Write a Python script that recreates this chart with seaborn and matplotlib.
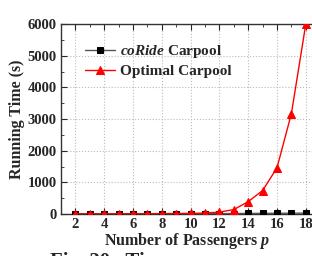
import matplotlib
matplotlib.use("Agg")
import matplotlib.pyplot as plt
import pandas as pd
import seaborn as sns
from matplotlib.ticker import MultipleLocator

passengers = [2, 3, 4, 5, 6, 7, 8, 9, 10, 11, 12, 13, 14, 15, 16, 17, 18]
coride_time = [5, 5, 5, 5, 6, 6, 7, 8, 9, 10, 12, 15, 18, 20, 22, 25, 28]
optimal_time = [3, 4, 5, 6, 8, 10, 12, 15, 20, 30, 60, 140, 390, 740, 1460, 3170, 6000]

df = pd.DataFrame({
    "p": passengers * 2,
    "time": coride_time + optimal_time,
    "method": ["coRide"] * len(passengers) + ["Optimal"] * len(passengers),
})

sns.set_style("ticks")
plt.rcParams["font.family"] = ["Liberation Serif", "DejaVu Serif"]
plt.rcParams["font.weight"] = "bold"
plt.rcParams["axes.labelweight"] = "bold"
plt.rcParams["mathtext.fontset"] = "custom"
plt.rcParams["mathtext.rm"] = "Liberation Serif:bold"
plt.rcParams["mathtext.it"] = "Liberation Serif:bold:italic"
plt.rcParams["mathtext.bf"] = "Liberation Serif:bold"

fig = plt.figure(figsize=(3.12, 2.56), dpi=100)
ax = fig.add_axes([61 / 312, 1 - 214 / 256, 252 / 312, 190 / 256])

c = df[df["method"] == "coRide"]
o = df[df["method"] == "Optimal"]
sns.lineplot(data=c, x="p", y="time", ax=ax, color="#555555", lw=1.0,
             marker="s", markersize=4, markerfacecolor="black", markeredgecolor="black",
             label="$\\it{coRide}$ Carpool", zorder=3)
sns.lineplot(data=o, x="p", y="time", ax=ax, color="red", lw=1.0,
             marker="^", markersize=5.5, markerfacecolor="red", markeredgecolor="red",
             label="Optimal Carpool", zorder=4)

ax.set_xlim(1, 18.5)
ax.set_ylim(0, 6000)
ax.set_xticks(range(2, 19, 2))
ax.xaxis.set_minor_locator(MultipleLocator(1))
ax.yaxis.set_major_locator(MultipleLocator(1000))
ax.yaxis.set_minor_locator(MultipleLocator(500))
ax.tick_params(which="both", direction="in", top=True, right=False, labelsize=10.5, pad=3)
ax.tick_params(which="major", length=4)
ax.tick_params(which="minor", length=2)
ax.grid(True, which="major", ls=":", color="#bbbbbb", lw=0.8)
plt.setp(ax.get_xticklabels() + ax.get_yticklabels(), fontweight="bold")
for s in ax.spines.values():
    s.set_color("#333333")
    s.set_linewidth(1.0)

ax.set_xlabel("Number of Passengers $\\it{p}$", fontsize=11.5, fontweight="bold", labelpad=0)
ax.set_ylabel("Running Time (s)", fontsize=11.5, fontweight="bold", labelpad=2)

ax.legend(loc="upper left", bbox_to_anchor=(0.04, 0.97), frameon=False,
          handlelength=2.0, handletextpad=0.3, labelspacing=0.25,
          prop={"weight": "bold", "size": 11})

fig.text(50 / 312, 1 - 252 / 256, "Fig. 20.  Ti", fontsize=15, fontweight="bold", va="top", ha="left")

fig.savefig("out.png", dpi=100)
